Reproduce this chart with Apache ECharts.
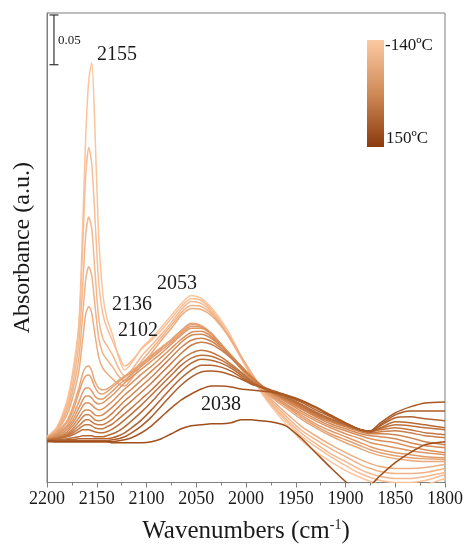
<!DOCTYPE html>
<html>
<head>
<meta charset="utf-8">
<script src="https://cdn.jsdelivr.net/npm/echarts@6/dist/echarts.min.js"></script>
<style>
  html, body { margin: 0; padding: 0; background: #ffffff; }
  #chart { width: 466px; height: 549px; }
</style>
</head>
<body>
<div id="chart"></div>
<script>
// Wavenumber grid (cm-1) shared by every spectrum
const wavenumbers = [2200, 2190, 2180, 2174, 2168, 2164, 2161, 2158, 2155, 2152, 2148, 2144, 2140, 2134, 2128,
  2122, 2115, 2105, 2095, 2085, 2075, 2065, 2055, 2045, 2035, 2025, 2015, 2005, 1995, 1985,
  1975, 1960, 1945, 1930, 1915, 1900, 1885, 1875, 1865, 1850, 1835, 1820, 1800];

// Temperature of each spectrum (ºC), coldest first
const temperatures = [-140, -125, -110, -95, -80, -65, -50, -35, -20, -5, 10, 25, 40, 55, 70, 85, 100, 115, 130, 150];

// Absorbance in milli-units, one array per temperature
const abs_m140 = [46, 56, 82, 112, 160, 262, 350, 405, 422, 360, 245, 190, 166, 148, 126, 113, 120, 135, 145, 156, 168, 180, 188, 185, 176, 163, 147, 127, 108, 91, 77, 59, 43, 31, 21, 12, 5, 1, -2, -4, -4, -2, 4];
const abs_m125 = [46, 55, 80, 108, 155, 240, 310, 337, 320, 270, 200, 170, 156, 142, 128, 117, 122, 134, 143, 153, 165, 177, 185, 183, 174, 161, 145, 126, 108, 92, 79, 62, 47, 36, 26, 17, 9, 5, 2, 0, 0, 2, 8];
const abs_m110 = [45, 54, 76, 100, 140, 200, 250, 267, 255, 215, 165, 145, 138, 128, 115, 107, 113, 127, 138, 149, 161, 174, 182, 180, 172, 159, 143, 125, 108, 93, 80, 64, 50, 39, 29, 21, 13, 9, 6, 4, 4, 6, 10];
const abs_m95 = [45, 53, 72, 93, 125, 170, 205, 217, 208, 180, 145, 130, 124, 116, 107, 102, 108, 122, 134, 146, 158, 171, 178, 177, 170, 158, 143, 126, 109, 94, 82, 67, 53, 43, 34, 26, 18, 14, 11, 9, 9, 10, 14];
const abs_m80 = [45, 52, 68, 86, 112, 145, 170, 177, 170, 150, 126, 115, 110, 104, 99, 97, 104, 118, 130, 143, 155, 168, 175, 174, 168, 157, 143, 127, 111, 96, 84, 70, 57, 47, 38, 30, 23, 19, 16, 14, 14, 15, 18];
const abs_m65 = [45, 51, 62, 76, 95, 110, 116, 117, 112, 102, 95, 93, 94, 98, 103, 107, 112, 120, 128, 136, 144, 153, 160, 158, 150, 138, 126, 114, 103, 94, 86, 75, 64, 55, 47, 40, 34, 30, 27, 24, 22, 21, 21];
const abs_m50 = [45, 50, 60, 72, 90, 102, 107, 108, 104, 96, 90, 89, 91, 96, 101, 106, 111, 119, 127, 135, 143, 152, 159, 157, 150, 139, 127, 115, 104, 95, 87, 77, 66, 57, 49, 43, 37, 33, 30, 27, 25, 24, 23];
const abs_m35 = [44, 49, 57, 67, 81, 91, 95, 95, 92, 87, 84, 84, 87, 92, 98, 103, 109, 117, 125, 133, 141, 150, 157, 156, 150, 139, 127, 116, 105, 96, 88, 78, 68, 59, 52, 46, 40, 36, 33, 30, 28, 26, 25];
const abs_m20 = [44, 48, 55, 63, 75, 83, 87, 87, 85, 81, 79, 80, 83, 88, 94, 100, 106, 114, 122, 130, 139, 148, 155, 155, 149, 139, 128, 117, 106, 97, 89, 79, 70, 62, 55, 49, 44, 40, 38, 35, 32, 30, 28];
const abs_m5 = [44, 47, 53, 60, 70, 77, 80, 80, 78, 75, 73, 74, 77, 82, 88, 94, 100, 109, 117, 126, 135, 144, 151, 152, 147, 138, 128, 117, 107, 98, 90, 81, 72, 64, 57, 52, 47, 44, 42, 40, 36, 33, 30];
const abs_p10 = [44, 46, 51, 57, 65, 71, 73, 73, 71, 68, 67, 68, 71, 76, 82, 88, 94, 103, 112, 121, 131, 141, 148, 149, 145, 137, 127, 117, 107, 98, 91, 82, 74, 66, 59, 54, 49, 47, 46, 44, 40, 37, 35];
const abs_p25 = [43, 45, 49, 54, 61, 66, 68, 68, 66, 63, 62, 63, 65, 70, 76, 82, 88, 97, 106, 116, 126, 136, 143, 145, 142, 135, 126, 116, 106, 98, 91, 83, 75, 67, 61, 56, 51, 49, 49, 48, 45, 41, 38];
const abs_p40 = [43, 45, 48, 52, 57, 61, 63, 63, 61, 59, 58, 58, 60, 64, 70, 76, 82, 91, 100, 110, 120, 130, 138, 141, 139, 133, 125, 115, 106, 98, 92, 84, 76, 68, 62, 57, 52, 50, 51, 52, 50, 47, 45];
const abs_p55 = [43, 44, 47, 50, 54, 57, 58, 58, 57, 55, 54, 54, 56, 59, 64, 69, 75, 84, 93, 103, 113, 123, 130, 133, 131, 126, 119, 111, 103, 97, 92, 85, 77, 69, 63, 58, 53, 51, 53, 55, 53, 50, 48];
const abs_p70 = [43, 44, 46, 48, 51, 53, 53, 53, 52, 51, 50, 50, 51, 54, 58, 63, 69, 78, 88, 98, 108, 118, 125, 128, 127, 123, 117, 110, 102, 96, 91, 85, 78, 70, 64, 58, 53, 51, 54, 58, 57, 55, 53];
const abs_p85 = [43, 43, 44, 45, 46, 47, 47, 47, 47, 46, 46, 46, 47, 49, 52, 56, 62, 71, 81, 92, 102, 112, 120, 124, 123, 120, 115, 108, 101, 96, 92, 86, 79, 71, 64, 58, 53, 51, 55, 61, 60, 58, 55];
const abs_p100 = [42, 42, 43, 43, 44, 44, 44, 44, 44, 44, 44, 44, 44, 45, 47, 50, 55, 63, 73, 84, 95, 105, 113, 118, 118, 116, 112, 106, 100, 96, 92, 87, 81, 73, 66, 59, 53, 51, 57, 65, 66, 64, 62];
const abs_p115 = [42, 42, 42, 42, 42, 42, 42, 42, 42, 42, 42, 42, 42, 43, 44, 46, 50, 57, 66, 77, 88, 98, 106, 111, 112, 111, 108, 104, 99, 96, 93, 88, 82, 75, 67, 60, 53, 51, 58, 68, 72, 72, 72];
const abs_p130 = [41, 41, 41, 41, 41, 41, 41, 41, 41, 41, 41, 41, 41, 41, 42, 43, 45, 50, 57, 66, 75, 83, 89, 94, 97, 97, 96, 94, 93, 92, 91, 88, 83, 76, 68, 60, 53, 52, 60, 70, 76, 80, 81];
const abs_p150 = [42, 41, 41, 41, 41, 41, 41, 41, 41, 41, 41, 41, 41, 40, 40, 40, 40, 40, 41, 44, 49, 54, 57, 58, 59, 59, 60, 63, 63, 62, 61, 57, 45, 30, 15, 1, -10, -3, 7, 20, 30, 38, 41];

const spectra = [abs_m140, abs_m125, abs_m110, abs_m95, abs_m80, abs_m65, abs_m50, abs_m35, abs_m20, abs_m5,
  abs_p10, abs_p25, abs_p40, abs_p55, abs_p70, abs_p85, abs_p100, abs_p115, abs_p130, abs_p150];

// Scale bar: 0.05 absorbance = 50 milli-units
const scaleBar = [[2193, 420, 470]];

const SERIF = "'Liberation Serif', 'Times New Roman', serif";
const TEXT = '#1a1a1a';
const FRAME = '#7f7f7f';

// Temperature → colour ramp (peach for cold, brown for hot)
const rampStops = [[0, [252, 196, 156]], [0.5, [214, 140, 88]], [1, [160, 78, 26]]];
function rampColor(t) {
  for (let k = 1; k < rampStops.length; k++) {
    const [t1, c1] = rampStops[k];
    const [t0, c0] = rampStops[k - 1];
    if (t <= t1) {
      const f = (t - t0) / (t1 - t0);
      const c = c0.map((v, i) => Math.round(v + (c1[i] - v) * f));
      return `rgb(${c[0]},${c[1]},${c[2]})`;
    }
  }
  const c = rampStops[rampStops.length - 1][1];
  return `rgb(${c[0]},${c[1]},${c[2]})`;
}
const tMin = temperatures[0], tMax = temperatures[temperatures.length - 1];

const lineSeries = spectra.map((arr, i) => ({
  name: temperatures[i] + 'ºC',
  type: 'line',
  data: wavenumbers.map((w, j) => [w, arr[j]]),
  showSymbol: false,
  smooth: 0.25,
  clip: true,
  silent: true,
  lineStyle: { width: 1.5, color: rampColor((temperatures[i] - tMin) / (tMax - tMin)) },
  z: 2
}));

const scaleSeries = {
  type: 'custom',
  data: scaleBar,
  silent: true,
  clip: false,
  z: 5,
  renderItem: function (params, api) {
    const top = api.coord([api.value(0), api.value(2)]);
    const bot = api.coord([api.value(0), api.value(1)]);
    const st = { stroke: '#333', lineWidth: 1.2 };
    return {
      type: 'group',
      children: [
        { type: 'line', shape: { x1: top[0], y1: top[1], x2: bot[0], y2: bot[1] }, style: st },
        { type: 'line', shape: { x1: top[0] - 4.5, y1: top[1], x2: top[0] + 4.5, y2: top[1] }, style: st },
        { type: 'line', shape: { x1: bot[0] - 4.5, y1: bot[1], x2: bot[0] + 4.5, y2: bot[1] }, style: st },
        { type: 'text', x: top[0] + 4, y: top[1] + 26,
          style: { text: '0.05', font: '13px ' + SERIF, fill: TEXT, align: 'left', verticalAlign: 'middle' } }
      ]
    };
  }
};

function label(text, x, y) {
  return { type: 'text', x: x, y: y, z: 10,
    style: { text: text, font: '20px ' + SERIF, fill: TEXT, align: 'center', verticalAlign: 'middle' } };
}

const chart = echarts.init(document.getElementById('chart'), null, { renderer: 'canvas' });
chart.setOption({
  animation: false,
  backgroundColor: '#ffffff',
  grid: { left: 47, right: 19, top: 13, bottom: 64, show: true, borderColor: FRAME, borderWidth: 1, backgroundColor: 'transparent' },
  xAxis: {
    type: 'value', min: 1800, max: 2200, interval: 50, inverse: true,
    name: 'Wavenumbers (cm{sup|-1})', nameLocation: 'middle', nameGap: 36,
    nameTextStyle: { fontFamily: SERIF, fontSize: 25, color: TEXT,
      rich: { sup: { fontFamily: SERIF, fontSize: 14, color: TEXT, verticalAlign: 'top', padding: [0, 0, 12, 0] } } },
    axisLine: { show: true, lineStyle: { color: FRAME, width: 1 } },
    axisTick: { show: true, inside: false, length: 5, lineStyle: { color: FRAME } },
    minorTick: { show: true, splitNumber: 2, length: 3, lineStyle: { color: FRAME } },
    axisLabel: { fontFamily: SERIF, fontSize: 18, color: TEXT, margin: 8, formatter: v => String(v) },
    splitLine: { show: false }
  },
  yAxis: {
    type: 'value', min: 0, max: 472,
    name: 'Absorbance (a.u.)', nameLocation: 'middle', nameGap: 12,
    nameTextStyle: { fontFamily: SERIF, fontSize: 24, color: TEXT },
    axisLine: { show: true, lineStyle: { color: FRAME, width: 1 } },
    axisTick: { show: false },
    axisLabel: { show: false },
    splitLine: { show: false }
  },
  series: lineSeries.concat([scaleSeries]),
  graphic: [
    label('2155', 117, 55),
    label('2136', 132, 305),
    label('2102', 138, 331),
    label('2053', 177, 284),
    label('2038', 221, 405),
    { type: 'rect', x: 367, y: 40, z: 10, shape: { width: 17, height: 107 },
      style: { fill: new echarts.graphic.LinearGradient(0, 0, 0, 1, [
        { offset: 0, color: '#fdcaa3' }, { offset: 0.5, color: '#cf8a57' }, { offset: 1, color: '#8b3a0c' }]) } },
    { type: 'text', x: 385, y: 46, z: 10,
      style: { text: '-140ºC', font: '17px ' + SERIF, fill: TEXT, align: 'left', verticalAlign: 'middle' } },
    { type: 'text', x: 386, y: 139, z: 10,
      style: { text: '150ºC', font: '17px ' + SERIF, fill: TEXT, align: 'left', verticalAlign: 'middle' } }
  ]
});
</script>
</body>
</html>
